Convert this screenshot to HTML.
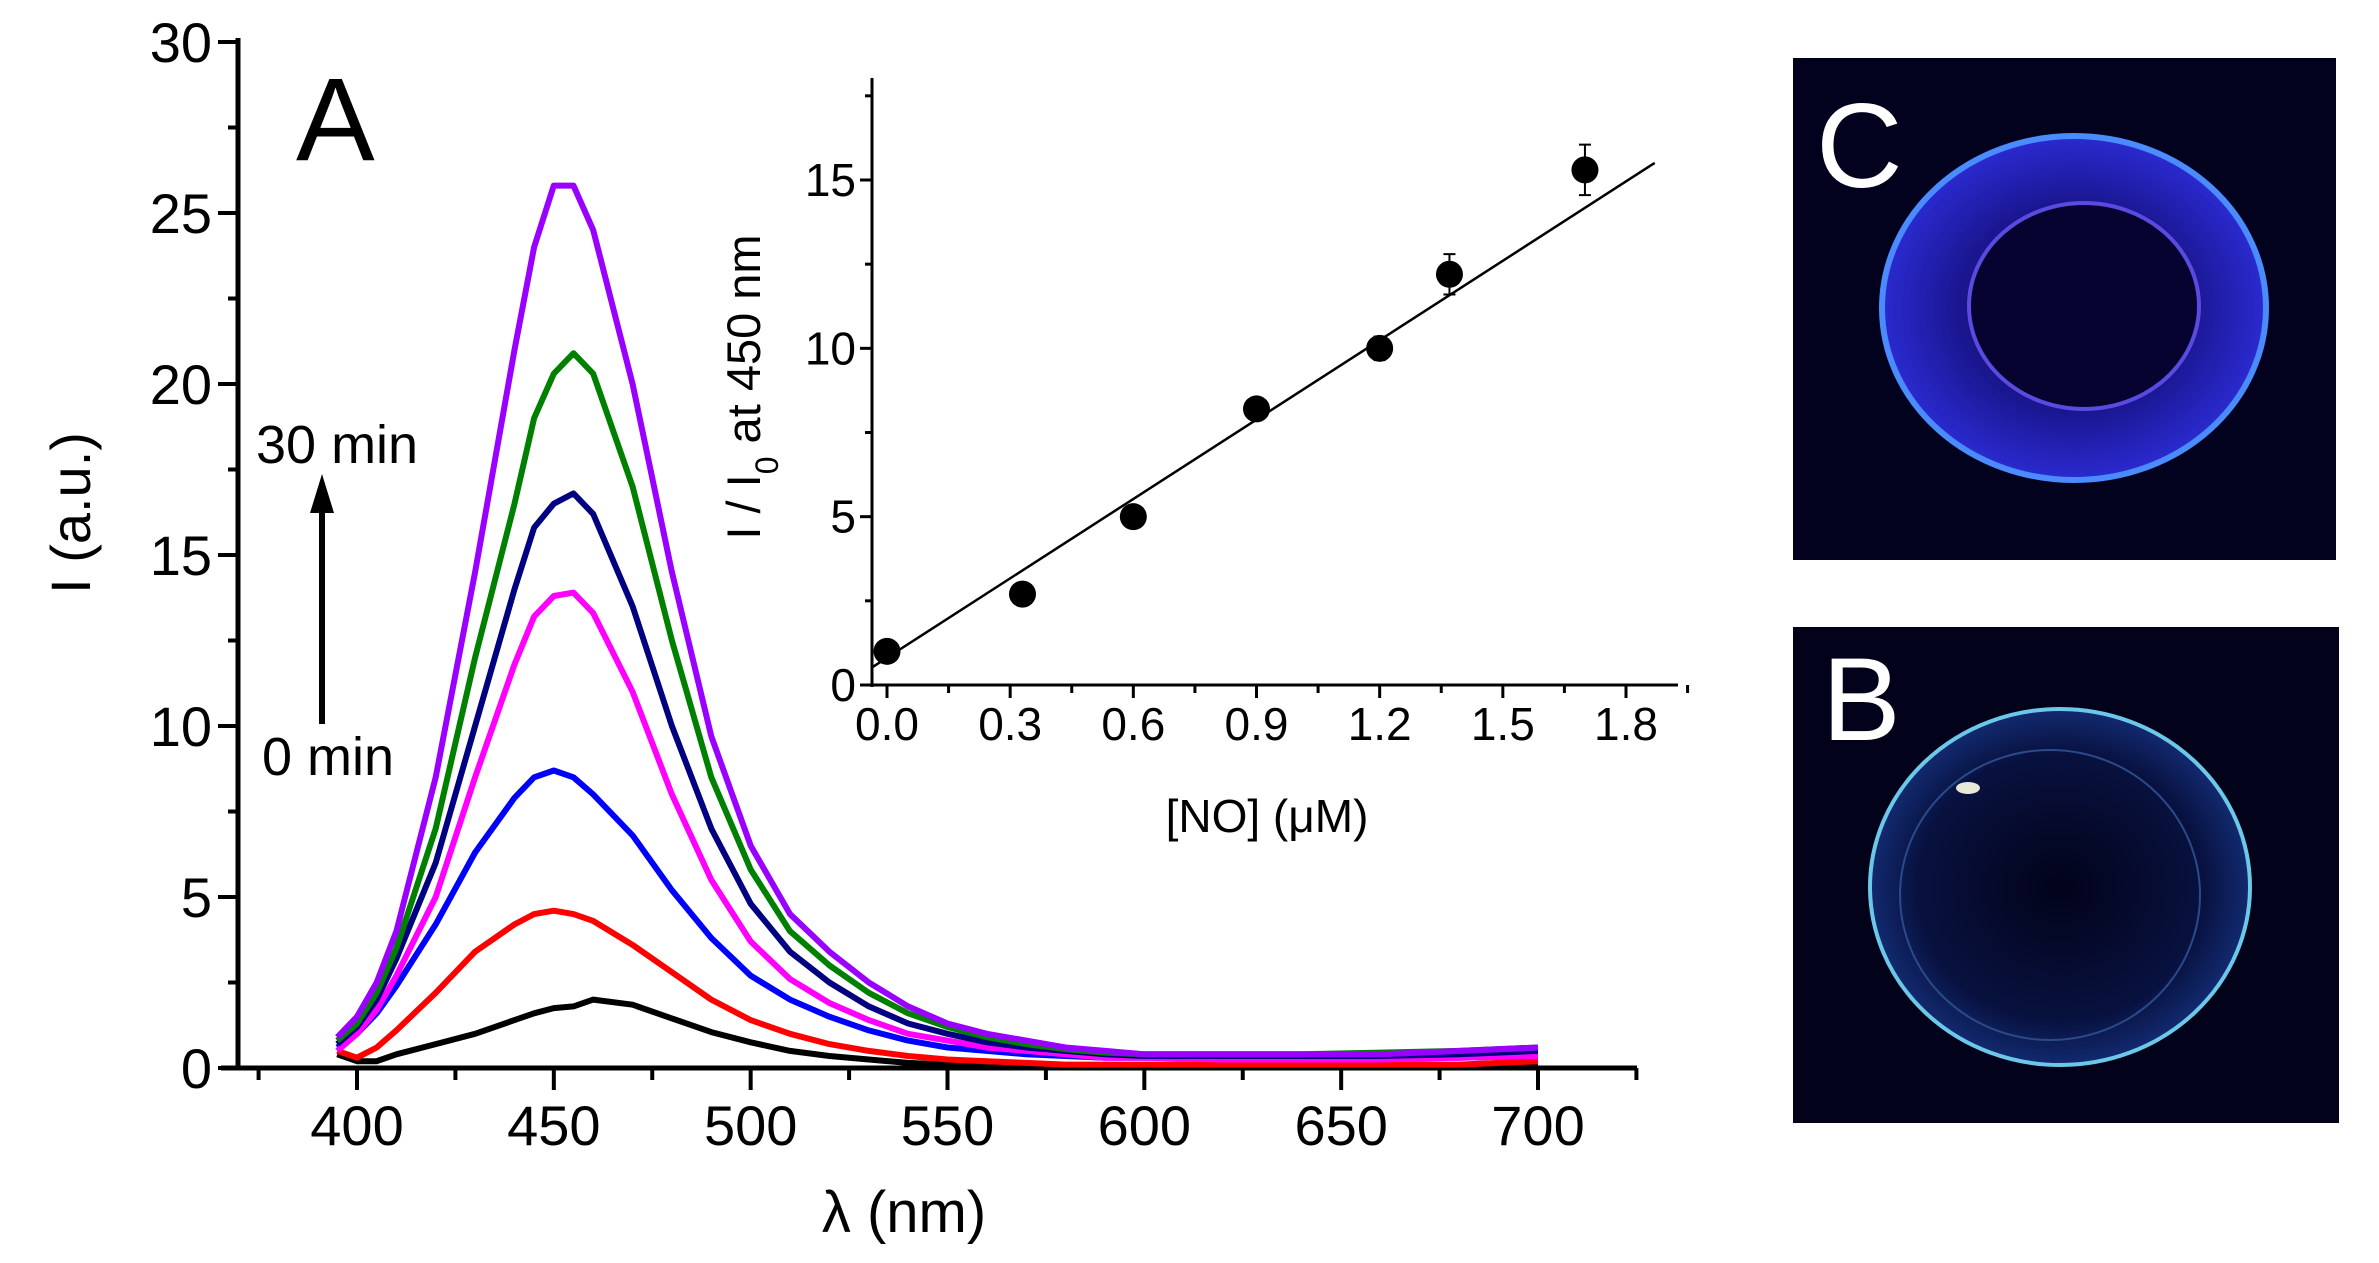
<!DOCTYPE html>
<html><head><meta charset="utf-8">
<style>
html,body{margin:0;padding:0;background:#fff;}
svg{display:block;font-family:"Liberation Sans",Arial,sans-serif;}
</style></head>
<body>
<svg id="fig" width="2379" height="1263" viewBox="0 0 2379 1263" xmlns="http://www.w3.org/2000/svg">
  <defs>
    <radialGradient id="gc" cx="50%" cy="50%" r="50%">
      <stop offset="0%" stop-color="#0a0640"/>
      <stop offset="60%" stop-color="#1a1690"/>
      <stop offset="100%" stop-color="#2a2ad0"/>
    </radialGradient>
    <radialGradient id="gb" cx="50%" cy="50%" r="50%">
      <stop offset="0%" stop-color="#02031a"/>
      <stop offset="75%" stop-color="#08113f"/>
      <stop offset="100%" stop-color="#122a70"/>
    </radialGradient>
  </defs>
  <g id="main"></g>
  <g id="inset"></g>
  <g>
    <rect x="1793" y="58" width="543" height="502" fill="#02011e"/>
    <ellipse cx="2074" cy="308" rx="192" ry="172" fill="url(#gc)" stroke="#4a8cff" stroke-width="6"/>
    <ellipse cx="2084" cy="306" rx="115" ry="103" fill="#070330" stroke="#5a4ae0" stroke-width="4"/>
    <text x="1816" y="187" font-size="120" fill="#fff">C</text>
  </g>
  <g>
    <rect x="1793" y="627" width="546" height="496" fill="#02031a"/>
    <ellipse cx="2060" cy="887" rx="190" ry="178" fill="url(#gb)" stroke="#6cc8e8" stroke-width="4"/>
    <ellipse cx="2050" cy="895" rx="150" ry="145" fill="none" stroke="#2a4a8a" stroke-width="2"/>
    <ellipse cx="1968" cy="788" rx="12" ry="6" fill="#e8e8d8"/>
    <text x="1822" y="740" font-size="118" fill="#fff">B</text>
  </g>
</svg>
<script>
const wavelengths = [395,400,405,410,420,430,440,445,450,455,460,470,480,490,500,510,520,530,540,550,560,570,580,590,600,620,640,660,680,700];
const sBlack   = [0.4,0.2,0.2,0.4,0.7,1.0,1.4,1.6,1.75,1.8,2.0,1.85,1.45,1.05,0.75,0.5,0.35,0.25,0.15,0.1,0.08,0.06,0.05,0.05,0.05,0.05,0.05,0.05,0.05,0.05];
const sRed     = [0.5,0.3,0.6,1.1,2.2,3.4,4.2,4.5,4.6,4.5,4.3,3.6,2.8,2.0,1.4,1.0,0.7,0.5,0.35,0.25,0.2,0.15,0.1,0.1,0.1,0.1,0.1,0.1,0.1,0.2];
const sBlue    = [0.6,1.0,1.6,2.4,4.2,6.3,7.9,8.5,8.7,8.5,8.0,6.8,5.2,3.8,2.7,2.0,1.5,1.1,0.8,0.6,0.5,0.4,0.35,0.3,0.3,0.3,0.3,0.3,0.3,0.35];
const sMagenta = [0.5,1.0,1.7,2.7,5.0,8.5,11.8,13.2,13.8,13.9,13.3,11.0,8.0,5.5,3.7,2.6,1.9,1.4,1.0,0.8,0.6,0.5,0.4,0.3,0.3,0.25,0.25,0.25,0.3,0.35];
const sNavy    = [0.7,1.2,2.0,3.2,6.0,10.0,14.0,15.8,16.5,16.8,16.2,13.5,10.0,7.0,4.8,3.4,2.5,1.8,1.3,1.0,0.75,0.6,0.5,0.4,0.35,0.35,0.35,0.35,0.4,0.5];
const sGreen   = [0.8,1.3,2.2,3.5,7.0,12.0,16.5,19.0,20.3,20.9,20.3,17.0,12.5,8.5,5.8,4.0,3.0,2.2,1.6,1.2,0.9,0.7,0.55,0.45,0.4,0.4,0.4,0.45,0.5,0.6];
const sPurple  = [0.9,1.5,2.5,4.0,8.5,14.5,21.0,24.0,25.8,25.8,24.5,20.0,14.5,9.7,6.5,4.5,3.4,2.5,1.8,1.3,1.0,0.8,0.6,0.5,0.4,0.4,0.4,0.4,0.5,0.6];
const xTicks = [400,450,500,550,600,650,700];
const yTicks = [0,5,10,15,20,25,30];
const noConc = [0.0,0.33,0.6,0.9,1.2,1.37,1.70];
const ratio  = [1.0,2.7,5.0,8.2,10.0,12.2,15.3];
const ratioErr = [0.1,0.1,0.1,0.1,0.35,0.6,0.75];
const fitLine = [0.81,7.86];
const insetXTicks = [0.0,0.3,0.6,0.9,1.2,1.5,1.8];
const insetYTicks = [0,5,10,15];

const NS="http://www.w3.org/2000/svg";
function mk(parent,tag,attrs){const e=document.createElementNS(NS,tag);for(const k in attrs)e.setAttribute(k,attrs[k]);parent.appendChild(e);return e;}

const X=v=>357+(v-400)*(1538-357)/300;
const Y=v=>1068-v*(1068-42)/30;
const main=document.getElementById('main');
let ax=mk(main,'line',{x1:238,y1:38,x2:238,y2:1070,stroke:'#000','stroke-width':5});


ax=mk(main,'line',{x1:221,y1:1068,x2:1637,y2:1068,stroke:'#000','stroke-width':5});


for(let v=0;v<=30;v+=2.5){
  const maj=v%5===0;
  mk(main,'line',{x1:238,x2:maj?218:228,y1:Y(v),y2:Y(v),stroke:'#000','stroke-width':4});
}
yTicks.forEach(v=>{
  const t=mk(main,'text',{x:212,y:Y(v)+20,'font-size':56,'text-anchor':'end'});
  t.textContent=v;
  
  
});
for(let v=375;v<=725;v+=25){
  const maj=v%50===0;
  mk(main,'line',{x1:X(v),x2:X(v),y1:1068,y2:maj?1090:1080,stroke:'#000','stroke-width':4});
}
xTicks.forEach(v=>{
  const t=mk(main,'text',{x:X(v),y:1145,'font-size':56,'text-anchor':'middle'});
  t.textContent=v;
  
  
});
let tt=mk(main,'text',{x:904,y:1232,'font-size':58,'text-anchor':'middle'});
tt.textContent='λ (nm)';


tt=mk(main,'text',{x:0,y:0,'font-size':56,'text-anchor':'middle',transform:'translate(90,513) rotate(-90)'});
tt.textContent='I (a.u.)';


tt=mk(main,'text',{x:296,y:160,'font-size':118});
tt.textContent='A';


tt=mk(main,'text',{x:256,y:463,'font-size':54});
tt.textContent='30 min';


tt=mk(main,'text',{x:262,y:775,'font-size':54});
tt.textContent='0 min';


let ar=mk(main,'line',{x1:322,y1:724,x2:322,y2:505,stroke:'#000','stroke-width':6});


ar=mk(main,'polygon',{points:'310,513 334,513 322,474',fill:'#000'});



const series=[[sBlack,'#000000','0min'],[sRed,'#ff0000','5min'],[sBlue,'#0000ff','10min'],[sMagenta,'#ff00ff','15min'],[sNavy,'#000080','20min'],[sGreen,'#008000','25min'],[sPurple,'#9900ff','30min']];
series.forEach(s=>{
  const d=s[0].map((v,i)=>(i?'L':'M')+X(wavelengths[i]).toFixed(1)+','+Y(v).toFixed(1)).join(' ');
  const p=mk(main,'path',{d:d,fill:'none',stroke:s[1],'stroke-width':6,'stroke-linejoin':'round'});
  
  
});

const IX=v=>887+v*(1626-887)/1.8;
const IY=v=>685-v*(685-180)/15;
const ins=document.getElementById('inset');
ax=mk(ins,'line',{x1:872,y1:78,x2:872,y2:687,stroke:'#000','stroke-width':3});


ax=mk(ins,'line',{x1:870,y1:685,x2:1678,y2:685,stroke:'#000','stroke-width':3});


for(let v=0;v<=17.5;v+=2.5){
  mk(ins,'line',{x1:872,x2:v%5===0?860:865,y1:IY(v),y2:IY(v),stroke:'#000','stroke-width':3});
}
insetYTicks.forEach(v=>{
  const t=mk(ins,'text',{x:856,y:IY(v)+16,'font-size':46,'text-anchor':'end'});
  t.textContent=v;
  
  
});
for(let i=0;i<=13;i++){
  const v=i*0.15;
  const maj=i%2===0;
  mk(ins,'line',{x1:IX(v),x2:IX(v),y1:685,y2:maj?698:693,stroke:'#000','stroke-width':3});
}
insetXTicks.forEach(v=>{
  const t=mk(ins,'text',{x:IX(v),y:740,'font-size':46,'text-anchor':'middle'});
  t.textContent=v.toFixed(1);
  
  
});
tt=mk(ins,'text',{x:1267,y:832,'font-size':46,'text-anchor':'middle'});
tt.textContent='[NO] (μM)';


tt=mk(ins,'text',{x:0,y:0,'font-size':47,'text-anchor':'middle',transform:'translate(760,387) rotate(-90)'});
tt.innerHTML='I / I<tspan baseline-shift="sub" font-size="32">0</tspan> at 450 nm';


const fx0=-0.037, fx1=1.87;
let fl=mk(ins,'line',{x1:IX(fx0),y1:IY(fitLine[0]+fitLine[1]*fx0),x2:IX(fx1),y2:IY(fitLine[0]+fitLine[1]*fx1),stroke:'#000','stroke-width':2.5});


noConc.forEach((c,i)=>{
  const e=ratioErr[i];
  const eb=mk(ins,'path',{d:`M${IX(c)},${IY(ratio[i]-e)}V${IY(ratio[i]+e)}M${IX(c)-6},${IY(ratio[i]-e)}h12M${IX(c)-6},${IY(ratio[i]+e)}h12`,stroke:'#000','stroke-width':2,fill:'none'});
  
  
  const pt=mk(ins,'circle',{cx:IX(c),cy:IY(ratio[i]),r:13.5,fill:'#000'});
  
  
});
</script>
</body></html>
